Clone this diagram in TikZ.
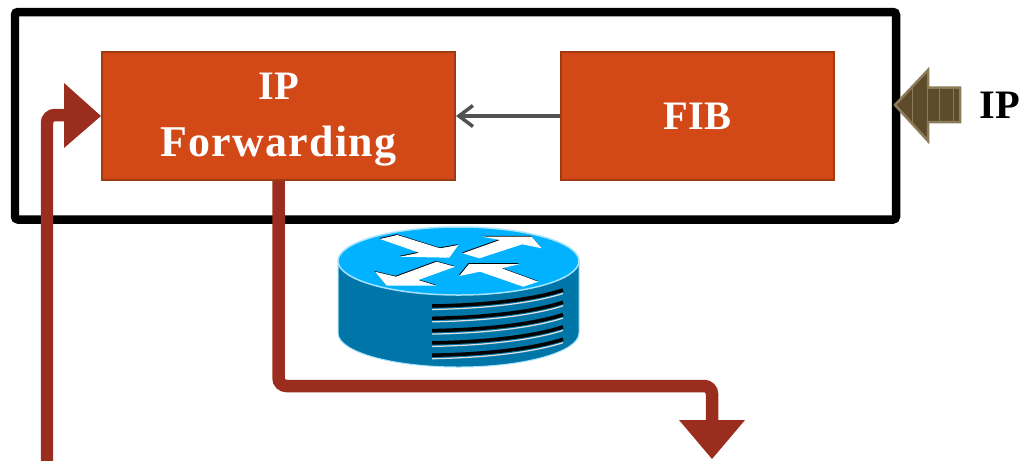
\documentclass[tikz,border=0pt]{standalone}
\usepackage{fontspec}
\setmainfont{Liberation Serif}
\usetikzlibrary{arrows.meta}
\definecolor{boxorange}{HTML}{D34817}
\definecolor{boxedge}{HTML}{A03A12}
\definecolor{pathred}{HTML}{9B2D1F}
\definecolor{routertop}{HTML}{00B2FF}
\definecolor{routerside}{HTML}{0076A8}
\definecolor{routeredge}{HTML}{A5E3FF}
\definecolor{ipbrown}{HTML}{5E4B2B}
\definecolor{ipedge}{HTML}{8C7B58}
\tikzset{
  blockbox/.style={draw=boxedge,fill=boxorange,line width=1.2pt,text=white,
    font=\fontsize{23}{33}\selectfont\bfseries,align=center,inner sep=0pt},
  pathline/.style={draw=pathred,line width=0.25cm,rounded corners=0.16cm},
  routerarrow/.style={fill=white},
  routershadow/.style={fill=black,xshift=-0.012cm,yshift=0.016cm},
  slot/.style={draw=black,line width=0.07cm},
  slotlight/.style={draw=white!75!gray,line width=0.025cm}
}
\begin{document}
\begin{tikzpicture}[x=0.02cm,y=-0.02cm]
  \useasboundingbox (0,0) rectangle (1023,460);

  \draw[line width=0.17cm,rounded corners=0.06cm] (15,12) rectangle (896,219.5);

  \node[blockbox,minimum width=7.06cm,minimum height=2.56cm] (IPF) at (278.5,116) {\rule{0pt}{19.2pt}IP\\[-0.7pt]{\fontsize{25}{33}\selectfont\addfontfeature{LetterSpace=3}Forwarding}};
  \node[blockbox,minimum width=5.46cm,minimum height=2.56cm] (FIB) at (697.5,116) {FIB};
  \node[font=\fontsize{23}{27}\selectfont\bfseries,inner sep=0pt] (IPlabel) at (1000,105) {IP};

  \draw[-{Straight Barb[length=0.28cm,width=0.42cm]},draw=black!68,line width=0.07cm] (FIB) -- (IPF);

  % router
  \fill[routerside,draw=routeredge,line width=0.02cm] (338,261) -- (338,333) arc[start angle=180,end angle=0,x radius=120.5,y radius=34] -- (579,261) -- cycle;
  \fill[routertop,draw=routeredge,line width=0.03cm] (458.5,261) ellipse[x radius=120.5,y radius=34];
  \foreach \s in {routershadow,routerarrow}{
    \fill[\s] (380,239) -- (397.3,235) -- (440,248.3) -- (458.3,245) -- (449.3,257.7) -- (400,256.7) -- (419.3,252.7) -- cycle;
    \fill[\s] (462.7,253.3) -- (500,240) -- (482.3,236.7) -- (531.7,236.7) -- (541.7,248.3) -- (522.3,244.3) -- (479.3,258.3) -- cycle;
    \fill[\s] (375,271.7) -- (396,276.7) -- (436.7,261.7) -- (455,266.7) -- (418.3,280) -- (436.7,285.7) -- (386.7,285.7) -- cycle;
    \fill[\s] (459.3,276) -- (469,264) -- (520,264) -- (501.7,268.3) -- (538.3,281.7) -- (523.3,286.7) -- (480,271.7) -- cycle;
  }
  \foreach \y in {0,12.3,24.6,36.9,49.2}{
    \draw[slot] (432,306+\y) .. controls (490,305+\y) and (535,299+\y) .. (563,290+\y);
    \draw[slotlight] (432,309.5+\y) .. controls (490,308.5+\y) and (535,302.5+\y) .. (563,293.5+\y);
  }

  % paths through the router
  \coordinate (InStart) at (47,470);
  \coordinate (InCorner) at (47,115);
  \coordinate (InEnd) at (70,115);
  \coordinate (OutCorner1) at (278.5,386);
  \coordinate (OutCorner2) at (712,386);
  \coordinate (OutEnd) at (712,459);
  \draw[pathline] (InStart) -- (InCorner) -- (InEnd);
  \fill[pathred] (64,83) -- (IPF.west) -- (64,148) -- cycle;
  \draw[pathline] (IPF.south) -- (OutCorner1) -- (OutCorner2) -- (712,425);
  \fill[pathred] (679,420) -- (OutEnd) -- (745,420) -- cycle;

  % incoming packet
  \fill[ipbrown,draw=ipedge,line width=0.05cm] (895,105) -- (928,70) -- (928,87.5) -- (960,87.5) -- (960,122) -- (928,122) -- (928,141) -- cycle;
  \foreach \x in {912,927,939,953}{
    \draw[ipedge,line width=0.02cm] (\x,{105-(\x<928?(\x-895):17)}) -- (\x,{105+(\x<928?(\x-895):17)});
  }
\end{tikzpicture}
\end{document}
